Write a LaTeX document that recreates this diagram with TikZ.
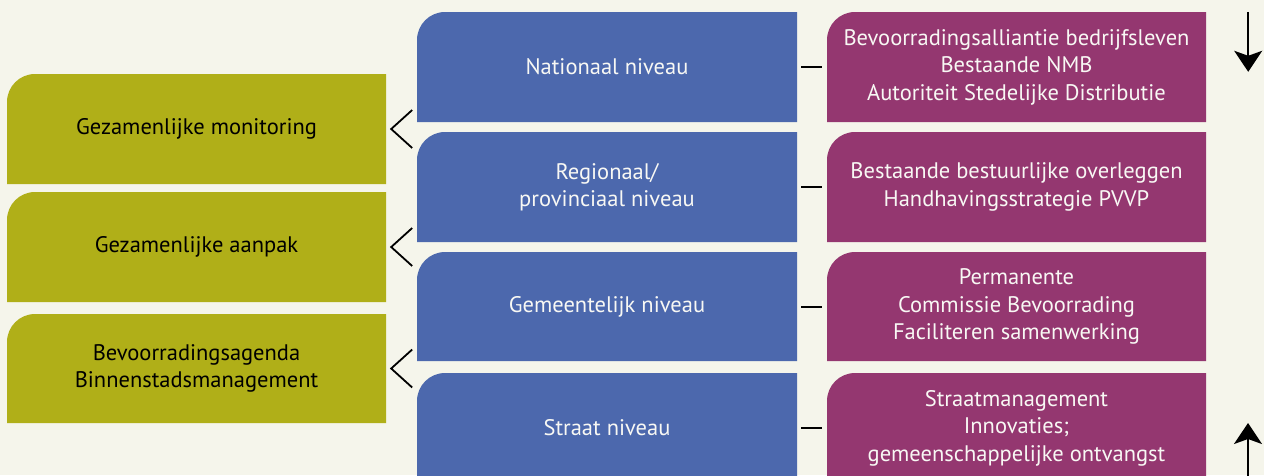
\documentclass[tikz,border=0pt]{standalone}
\usepackage{fontspec}
\setmainfont{PT Sans}
\usetikzlibrary{arrows.meta,calc}
\definecolor{bg}{HTML}{F5F5EB}
\definecolor{olive}{HTML}{B0AF18}
\definecolor{nblue}{HTML}{4C68AD}
\definecolor{plum}{HTML}{943770}
\definecolor{offwhite}{HTML}{F8F8F4}
\newcommand{\tlbox}[8]{%
  \fill[#6] (#2,#5) [rounded corners=28pt] -- (#2,#3) [sharp corners] -- (#4,#3) -- (#4,#5) -- cycle;
  \node[boxtext, text=#7, minimum width={#4-#2}, minimum height={#5-#3}] (#1) at ({(#2+#4)/2},{(#3+#5)/2}) {#8};}
\begin{document}
\begin{tikzpicture}[x=1pt,y=-1pt,
  boxtext/.style={inner sep=0pt, align=center, font=\fontsize{22.5}{27.5}\selectfont},
  dashline/.style={line width=2pt, black},
  chev/.style={line width=1.8pt, black},
  vert/.style={line width=1.8pt, black, -{Stealth[length=21pt,width=28pt,inset=5pt]}}]
\fill[bg] (0,0) rectangle (1264,475);
\useasboundingbox (0,0) rectangle (1264,475);
% green
\tlbox{g1}{7}{74}{386}{184}{olive}{black}{Gezamenlijke monitoring}
\tlbox{g2}{7}{192}{386}{302}{olive}{black}{Gezamenlijke aanpak}
\tlbox{g3}{7}{314}{386}{423}{olive}{black}{Bevoorradingsagenda\\Binnenstadsmanagement}
% blue
\tlbox{b1}{417}{12}{797}{122}{nblue}{offwhite}{Nationaal niveau}
\tlbox{b2}{417}{132}{797}{242}{nblue}{offwhite}{Regionaal/\\provinciaal niveau}
\tlbox{b3}{417}{252}{797}{361}{nblue}{offwhite}{Gemeentelijk niveau}
\tlbox{b4}{417}{373}{797}{483}{nblue}{offwhite}{Straat niveau}
% purple
\tlbox{p1}{827}{12}{1206}{122}{plum}{offwhite}{Bevoorradingsalliantie bedrijfsleven\\Bestaande NMB\\Autoriteit Stedelijke Distributie}
\tlbox{p2}{827}{132}{1206}{242}{plum}{offwhite}{Bestaande bestuurlijke overleggen\\Handhavingsstrategie PVVP}
\tlbox{p3}{827}{252}{1206}{361}{plum}{offwhite}{Permanente\\Commissie Bevoorrading\\Faciliteren samenwerking}
\tlbox{p4}{827}{373}{1206}{483}{plum}{offwhite}{Straatmanagement\\Innovaties;\\gemeenschappelijke ontvangst}
% dashes between blue and purple
\foreach \i in {1,2,3,4}{
  \draw[dashline] ($(b\i.east)+(4,0)$) -- ($(p\i.west)+(-5,0)$);
}
% chevrons between green and blue
\foreach \i in {1,2,3}{
  \draw[chev] ($(g\i.east)+(26,-19)$) -- ($(g\i.east)+(5,0)$) -- ($(g\i.east)+(26,19)$);
}
% arrows on the right
\coordinate (dtop) at ($(p1.north east)+(42,0)$);
\coordinate (dbot) at ($(p1.north east)+(42,60)$);
\draw[vert] (dtop) -- (dbot);
\coordinate (ubot) at (1248,476);
\coordinate (utop) at (1248,423);
\draw[vert] (ubot) -- (utop);
\end{tikzpicture}
\end{document}
